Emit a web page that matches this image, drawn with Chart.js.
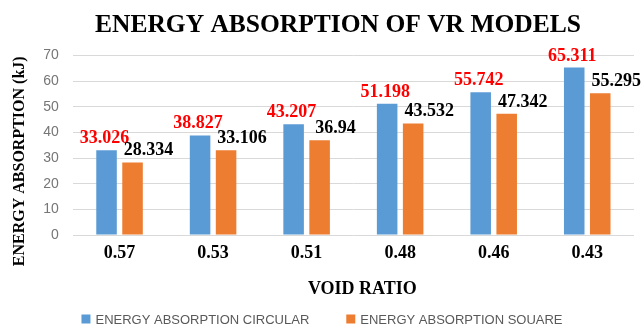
<!DOCTYPE html>
<html>
<head>
<meta charset="utf-8">
<script src="https://cdn.jsdelivr.net/npm/chart.js@4"></script>
<style>
  html, body { margin: 0; padding: 0; background: #fff; }
  #wrap { width: 644px; height: 324px; }
</style>
</head>
<body>
<div id="wrap"><canvas id="absorptionChart"></canvas></div>
<script>
// Data
const voidRatios = ['0.57', '0.53', '0.51', '0.48', '0.46', '0.43'];
const circular = [33.026, 38.827, 43.207, 51.198, 55.742, 65.311];
const square = [28.334, 33.106, 36.94, 43.532, 47.342, 55.295];
const seriesNames = ['ENERGY ABSORPTION CIRCULAR', 'ENERGY ABSORPTION SQUARE'];
const yTicks = [0, 10, 20, 30, 40, 50, 60, 70];

const BLUE = '#5b9bd5';
const ORANGE = '#ed7d31';
const SERIF = "'Liberation Serif', 'Times New Roman', serif";
const SANS = "'Liberation Sans', Arial, sans-serif";

// value labels above each bar (red for circular, black for square)
const valueLabels = {
    id: 'valueLabels',
    afterDatasetsDraw(chart) {
        const ctx = chart.ctx;
        ctx.save();
        ctx.font = 'bold 18px ' + SERIF;
        ctx.textAlign = 'center';
        ctx.textBaseline = 'alphabetic';
        chart.data.datasets.forEach((ds, i) => {
            const meta = chart.getDatasetMeta(i);
            ctx.fillStyle = i === 0 ? '#ff0000' : '#000000';
            const dx = i === 0 ? -2 : 16;
            meta.data.forEach((bar, j) => {
                ctx.fillText(String(ds.data[j]), bar.x + dx, bar.y - 7);
            });
        });
        ctx.restore();
    }
};

// legend row along the bottom edge
const bottomLegend = {
    id: 'bottomLegend',
    afterDraw(chart) {
        const ctx = chart.ctx;
        const box = 9, gap = 5, spacing = 37;
        ctx.save();
        ctx.font = '13px ' + SANS;
        ctx.textBaseline = 'middle';
        const items = chart.data.datasets.map(ds => ({
            text: ds.label,
            color: ds.backgroundColor,
            w: ctx.measureText(ds.label).width
        }));
        let total = items.reduce((s, it) => s + box + gap + it.w, 0) + spacing * (items.length - 1);
        let x = (chart.width - total) / 2;
        const y = chart.height - 5;
        items.forEach(it => {
            ctx.fillStyle = it.color;
            ctx.fillRect(x, y - box / 2, box, box);
            x += box + gap;
            ctx.fillStyle = '#595959';
            ctx.fillText(it.text, x, y + 1);
            x += it.w + spacing;
        });
        ctx.restore();
    }
};

new Chart(document.getElementById('absorptionChart'), {
    type: 'bar',
    data: {
        labels: voidRatios,
        datasets: [
            {
                label: seriesNames[0],
                data: circular,
                backgroundColor: BLUE,
                categoryPercentage: 0.556,
                barPercentage: 0.79
            },
            {
                label: seriesNames[1],
                data: square,
                backgroundColor: ORANGE,
                categoryPercentage: 0.556,
                barPercentage: 0.79
            }
        ]
    },
    options: {
        responsive: true,
        maintainAspectRatio: false,
        animation: false,
        layout: {
            padding: { top: 0, left: 10, right: 10, bottom: 24.2 }
        },
        plugins: {
            legend: { display: false },
            tooltip: { enabled: false },
            title: {
                display: true,
                // leading spaces nudge the heading towards the plot centre
                text: ' '.repeat(5) + 'ENERGY ABSORPTION OF VR MODELS',
                color: '#000',
                font: { family: SERIF, size: 25.5, weight: 'bold' },
                padding: { top: 10, bottom: 15 }
            }
        },
        scales: {
            x: {
                grid: { display: false, drawTicks: false },
                border: { display: false },
                ticks: {
                    color: '#000',
                    padding: 7.7,
                    font: { family: SERIF, size: 18, weight: 'bold' }
                },
                title: {
                    display: true,
                    text: ' '.repeat(4) + 'VOID RATIO',
                    color: '#000',
                    font: { family: SERIF, size: 18, weight: 'bold' },
                    padding: { top: 6.2, bottom: 0 }
                }
            },
            y: {
                min: 0,
                max: 70,
                afterBuildTicks: axis => {
                    axis.ticks = yTicks.map(v => ({ value: v }));
                },
                grid: { color: '#d9d9d9', drawTicks: false },
                border: { display: false },
                ticks: {
                    color: '#767676',
                    padding: 14,
                    font: { family: SANS, size: 14 }
                },
                title: {
                    display: true,
                    // trailing spaces push the rotated title a little lower
                    text: 'ENERGY ABSORPTION (kJ)' + ' '.repeat(8),
                    color: '#000',
                    font: { family: SERIF, size: 16, weight: 'bold' },
                    padding: { top: 0, bottom: 0 }
                }
            }
        }
    },
    plugins: [valueLabels, bottomLegend]
});
</script>
</body>
</html>
